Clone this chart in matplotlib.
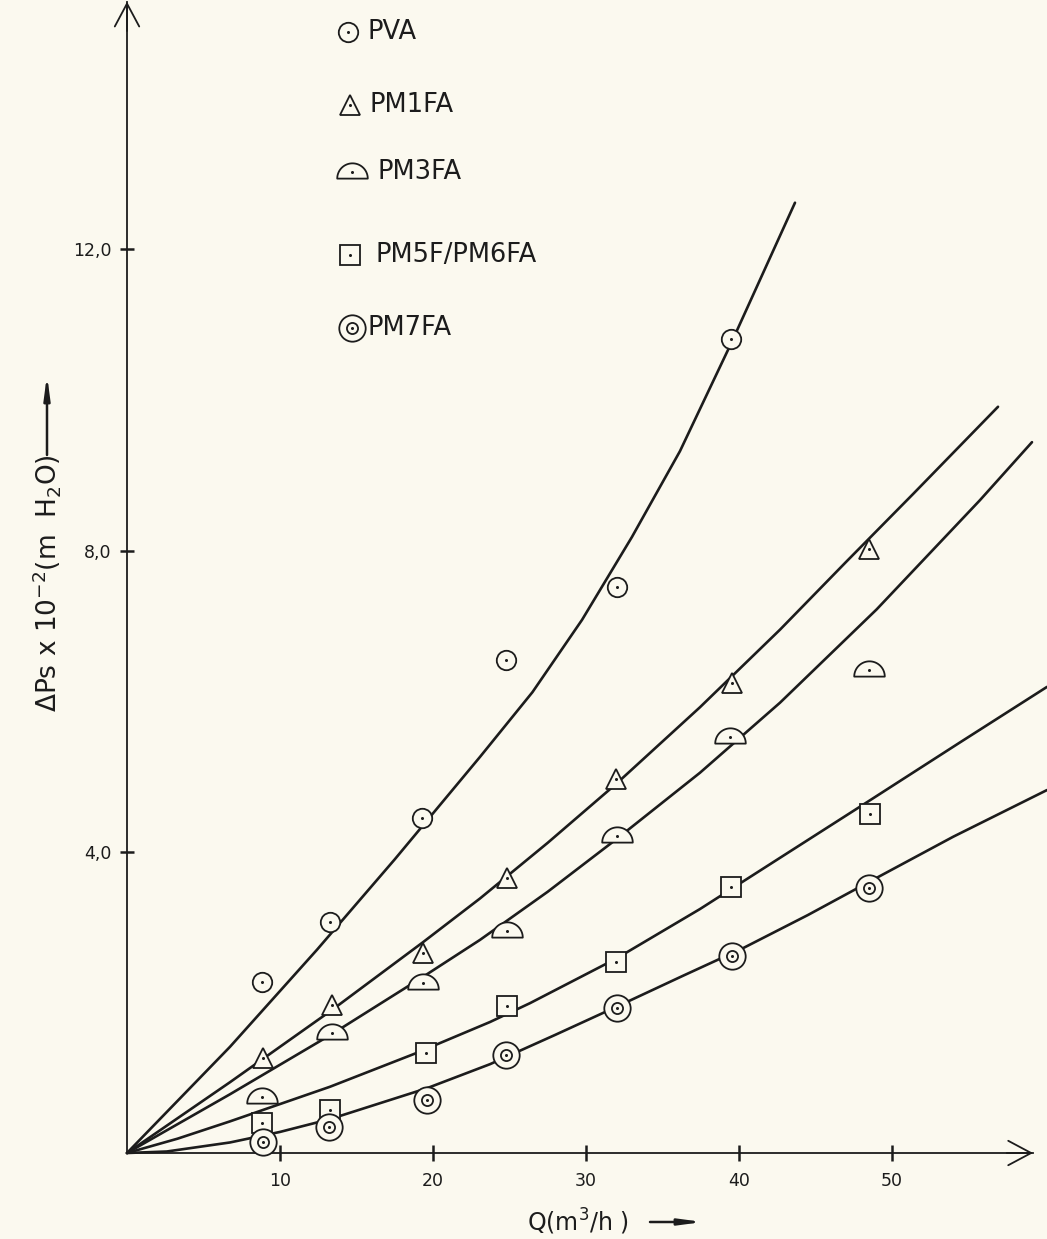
import matplotlib
matplotlib.use('Agg')
import matplotlib.pyplot as plt
from matplotlib.path import Path
import numpy as np

INK = '#1c1c1c'
PAPER = '#fbf9ef'

# measured points: Q (m3/h) against dPs x 10^-2 (m H2O)
q_pva = [8.8, 13.3, 19.3, 24.8, 32.0, 39.5]
dp_pva = [2.27, 3.07, 4.45, 6.55, 7.52, 10.81]

q_pm1 = [8.9, 13.4, 19.35, 24.85, 31.95, 39.55, 48.5]
dp_pm1 = [1.26, 1.97, 2.66, 3.65, 4.97, 6.24, 8.02]

q_pm3 = [8.8, 13.4, 19.35, 24.85, 32.0, 39.4, 48.5]
dp_pm3 = [0.74, 1.59, 2.26, 2.95, 4.21, 5.52, 6.41]

q_pm56 = [8.8, 13.3, 19.55, 24.85, 31.95, 39.5, 48.55]
dp_pm56 = [0.40, 0.57, 1.33, 1.95, 2.54, 3.53, 4.50]

q_pm7 = [8.9, 13.2, 19.6, 24.8, 32.0, 39.55, 48.5]
dp_pm7 = [0.15, 0.35, 0.70, 1.30, 1.93, 2.62, 3.52]

# hand drawn curves
cq_pva = [0, 6.73, 12.42, 17.5, 23.07, 26.5, 29.74, 33.0, 36.14, 39.48, 43.66]
cdp_pva = [0, 1.41, 2.70, 3.90, 5.26, 6.12, 7.08, 8.18, 9.32, 10.75, 12.62]

cq_pm1 = [0, 6.73, 13.4, 19.35, 23.07, 27.5, 31.96, 37.45, 42.68, 47.0, 51.37, 56.93]
cdp_pm1 = [0, 0.94, 1.90, 2.80, 3.38, 4.12, 4.90, 5.92, 6.95, 7.85, 8.75, 9.91]

cq_pm3 = [0, 6.73, 13.4, 19.35, 23.07, 27.5, 32.0, 37.45, 42.68, 49.0, 55.75, 59.15]
cdp_pm3 = [0, 0.78, 1.58, 2.34, 2.83, 3.47, 4.17, 5.05, 5.98, 7.22, 8.67, 9.44]

cq_pm56 = [0, 3.3, 6.73, 13.27, 18.82, 23.73, 26.34, 31.96, 37.45, 42.68, 48.76, 54.5, 60.13]
cdp_pm56 = [0, 0.19, 0.42, 0.88, 1.32, 1.74, 1.99, 2.58, 3.24, 3.92, 4.71, 5.46, 6.19]

cq_pm7 = [0, 2.6, 6.73, 10.0, 13.27, 19.6, 23.73, 28.0, 32.4, 36.3, 40.26, 44.5, 48.5, 54.0, 60.13]
cdp_pm7 = [0, 0.02, 0.14, 0.28, 0.45, 0.86, 1.18, 1.57, 1.98, 2.35, 2.72, 3.16, 3.60, 4.20, 4.82]

x_ticks = [10, 20, 30, 40, 50]
y_ticks = [4, 8, 12]
y_tick_labels = ['4,0', '8,0', '12,0']

labels = ['PVA', 'PM1FA', 'PM3FA', 'PM5F/PM6FA', 'PM7FA']

# half round marker (flat side down)
t = np.linspace(0, np.pi, 30)
half_verts = np.column_stack([np.cos(t), np.sin(t) - 0.4])
half_verts = np.vstack([half_verts, [[1, -0.4]]])
HALF = Path(half_verts, closed=True)

fig = plt.figure(figsize=(10.47, 12.39), dpi=100, facecolor=PAPER)
ax = fig.add_axes([0, 0, 1, 1], facecolor=PAPER)
ax.set_xlim(-8.301, 60.131)
ax.set_ylim(-1.142, 15.312)


def marks(x, y, kind, **kw):
    base = dict(ls='none', mfc=PAPER, mec=INK, mew=1.3, zorder=4, clip_on=False)
    base.update(kw)
    if kind == 'circle':
        ax.plot(x, y, marker='o', ms=14, **base)
    elif kind == 'tri':
        ax.plot(x, y, marker='^', ms=15, **base)
    elif kind == 'half':
        ax.plot(x, y, marker=HALF, ms=22, **base)
    elif kind == 'square':
        ax.plot(x, y, marker='s', ms=14, **base)
    elif kind == 'double':
        ax.plot(x, y, marker='o', ms=19, **base)
        base['zorder'] = 5
        ax.plot(x, y, marker='o', ms=8, **base)
    dot = dict(base)
    dot.update(mfc=INK, mew=0, zorder=6)
    ax.plot(x, y, marker='o', ms=2.2, **dot)


series = [
    (q_pva, dp_pva, cq_pva, cdp_pva, 'circle'),
    (q_pm1, dp_pm1, cq_pm1, cdp_pm1, 'tri'),
    (q_pm3, dp_pm3, cq_pm3, cdp_pm3, 'half'),
    (q_pm56, dp_pm56, cq_pm56, cdp_pm56, 'square'),
    (q_pm7, dp_pm7, cq_pm7, cdp_pm7, 'double'),
]
for q, dp, cq, cdp, kind in series:
    ax.plot(cq, cdp, color=INK, lw=1.9, zorder=2, solid_capstyle='round',
            solid_joinstyle='round')
    marks(q, dp, kind)

# axes drawn as arrows from the origin
for s in ['top', 'right']:
    ax.spines[s].set_visible(False)
ax.spines['bottom'].set_position(('data', 0))
ax.spines['left'].set_position(('data', 0))
ax.spines['bottom'].set_bounds(0, 59.22)
ax.spines['left'].set_bounds(0, 15.29)
for s in ['bottom', 'left']:
    ax.spines[s].set_color(INK)
    ax.spines[s].set_linewidth(1.3)
head = dict(arrowstyle='->,head_length=0.75,head_width=0.4', lw=1.3, color=INK,
            shrinkA=0, shrinkB=0, mutation_scale=22)
ax.annotate('', xy=(59.22, 0), xytext=(57.5, 0), arrowprops=head)
ax.annotate('', xy=(0, 15.29), xytext=(0, 14.9), arrowprops=head)

ax.set_xticks(x_ticks)
ax.set_xticklabels([str(v) for v in x_ticks])
ax.set_yticks(y_ticks)
ax.set_yticklabels(y_tick_labels)
ax.tick_params(axis='x', direction='inout', length=11, width=1.8, color=INK,
               labelsize=12.5, labelcolor=INK, pad=8)
ax.tick_params(axis='y', direction='inout', length=10, width=1.8, color=INK,
               labelsize=12.5, labelcolor=INK, pad=6)

# axis titles with their little arrows
ax.text(578 / 1047, 1 - 1222 / 1239, r'Q(m$^3$/h )', transform=ax.transAxes,
        ha='center', va='center', fontsize=17, color=INK)
ax.annotate('', xy=(703 / 1047, 1 - 1222 / 1239), xytext=(650 / 1047, 1 - 1222 / 1239),
            xycoords='axes fraction',
            arrowprops=dict(arrowstyle='-|>,head_length=0.9,head_width=0.12', lw=1.8,
                            color=INK, shrinkA=0, shrinkB=0, mutation_scale=15))
ax.text(47 / 1047, 1 - 583 / 1239, r'$\Delta$Ps x 10$^{-2}$(m  H$_2$O)', transform=ax.transAxes,
        ha='center', va='center', rotation=90, fontsize=19, color=INK)
ax.annotate('', xy=(47 / 1047, 1 - 375 / 1239), xytext=(47 / 1047, 1 - 455 / 1239),
            xycoords='axes fraction',
            arrowprops=dict(arrowstyle='-|>,head_length=0.9,head_width=0.12', lw=1.8,
                            color=INK, shrinkA=0, shrinkB=0, mutation_scale=15))

# key in the upper part of the sheet
key_px = [(348, 32, 368), (350, 105, 370), (352, 172, 377), (350, 255, 375), (352, 328, 368)]
kinds = ['circle', 'tri', 'half', 'square', 'double']
for (mx, my, tx), kind, lab in zip(key_px, kinds, labels):
    marks([mx / 1047], [1 - my / 1239], kind, transform=ax.transAxes)
    ax.text(tx / 1047, 1 - my / 1239, lab, transform=ax.transAxes,
            ha='left', va='center', fontsize=18.5, color=INK)

fig.savefig('out.png', dpi=100, facecolor=PAPER)
